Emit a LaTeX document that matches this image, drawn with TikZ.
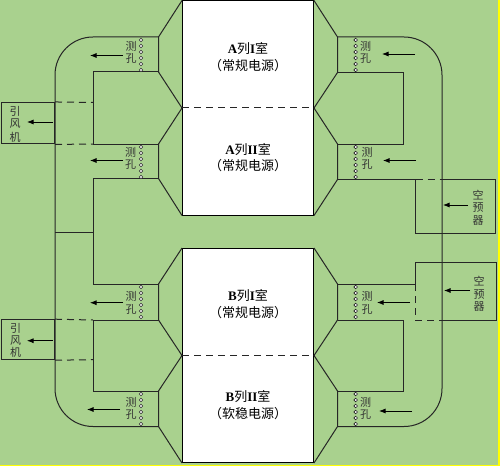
\documentclass[tikz,border=0pt]{standalone}
\usepackage{fontspec}
\setmainfont{Liberation Serif}
\newfontfamily\cjk{Noto Sans CJK SC}
\usetikzlibrary{arrows.meta, positioning, calc}
\definecolor{plantgreen}{HTML}{A9D18E}
\definecolor{edgeyellow}{HTML}{FFFF00}

\begin{document}
\begin{tikzpicture}[
        x=1pt, y=-1pt,
        line/.style={draw=black!85, line width=1pt},
        cut/.style={line, dash pattern=on 7pt off 5pt},
        room/.style={rectangle, draw=black, line width=1pt, fill=white, minimum width=131pt, minimum height=214pt, inner sep=0pt},
        unit/.style={rectangle, line, minimum width=53pt, inner sep=0pt},
        flow/.style={draw=black, line width=0.8pt, -{Latex[length=6.5pt,width=5pt]}},
        hole/.style={circle, draw=black!85, fill=white, line width=0.6pt, minimum size=3.6pt, inner sep=0pt},
        tag/.style={font=\cjk\fontsize{11}{11}\selectfont, text=black!80, inner sep=0pt},
        title/.style={font=\fontsize{13}{13}\selectfont, inner sep=0pt},
    ]

        % background and strip along the lower edge
        \fill[white] (0,0) rectangle (500,468);
        \fill[edgeyellow] (0,0) rectangle (499.5,466);
        \fill[plantgreen] (0,0) rectangle (498.3,465);
        \useasboundingbox (0,0) rectangle (500,468);

        % ----------------------------------------------------
        % ROOMS
        % ----------------------------------------------------
        \node[room] (roomA) at (248,108) {};
        \node[room] (roomB) at (248,355.5) {};
        \draw[cut] (roomA.west) -- (roomA.east);
        \draw[cut] (roomB.west) -- (roomB.east);

        \node[title] (titleA1) at (248,49) {\textbf{A}{\cjk 列}\textbf{I}{\cjk 室}};
        \node[title] (noteA1) at (248,66) {\cjk （常规电源）};
        \node[title] (titleA2) at (248,149.5) {\textbf{A}{\cjk 列}\textbf{II}{\cjk 室}};
        \node[title] (noteA2) at (248,166) {\cjk （常规电源）};
        \node[title] (titleB1) at (248,296) {\textbf{B}{\cjk 列}\textbf{I}{\cjk 室}};
        \node[title] (noteB1) at (248,313) {\cjk （常规电源）};
        \node[title] (titleB2) at (248,396.5) {\textbf{B}{\cjk 列}\textbf{II}{\cjk 室}};
        \node[title] (noteB2) at (248,414) {\cjk （软稳电源）};

        % ----------------------------------------------------
        % DUCT CORNERS
        % ----------------------------------------------------
        % Left side
        \coordinate (la1) at (158.5,37);
        \coordinate (la2) at (158.5,72);
        \coordinate (la3) at (158.5,144);
        \coordinate (la4) at (158.5,178.5);
        \coordinate (lb1) at (158.5,284);
        \coordinate (lb2) at (158.5,320);
        \coordinate (lb3) at (158.5,391);
        \coordinate (lb4) at (158.5,426.5);
        % Right side
        \coordinate (ra1) at (337.5,37);
        \coordinate (ra2) at (337.5,72.5);
        \coordinate (ra3) at (337.5,144);
        \coordinate (ra4) at (337.5,179.5);
        \coordinate (rb1) at (337.5,284);
        \coordinate (rb2) at (337.5,320);
        \coordinate (rb3) at (337.5,391);
        \coordinate (rb4) at (337.5,426.5);

        % Funnels
        \draw[line] (roomA.north west) -- (la1) -- (la2) -- (roomA.west) -- (la3) -- (la4) -- (roomA.south west);
        \draw[line] (roomB.north west) -- (lb1) -- (lb2) -- (roomB.west) -- (lb3) -- (lb4) -- (roomB.south west);
        \draw[line] (roomA.north east) -- (ra1) -- (ra2) -- (roomA.east) -- (ra3) -- (ra4) -- (roomA.south east);
        \draw[line] (roomB.north east) -- (rb1) -- (rb2) -- (roomB.east) -- (rb3) -- (rb4) -- (roomB.south east);

        % ----------------------------------------------------
        % LEFT DUCTS AND FANS
        % ----------------------------------------------------
        \node[unit, minimum height=41.5pt] (fanA) at (28,123.2) {};
        \node[unit, minimum height=40pt] (fanB) at (28,339.7) {};

        \draw[line, rounded corners=38pt] (la1) -- (55,37) -- (55,426.5) -- (lb4);
        \draw[line] (la2) -- (93,72) -- (93,102.5);
        \draw[line] (93,102.5) -- (93,144) -- (la3);
        \draw[line] (la4) -- (93,178.5) -- (93,284) -- (lb1);
        \draw[line] (lb2) -- (93,320) -- (93,359.7);
        \draw[line] (93,359.7) -- (93,391) -- (lb3);
        \draw[line] (55,232.5) -- (93,232.5);

        \draw[cut] (fanA.north east) -- (93,102.5);
        \draw[cut] (fanA.south east) -- (93,144);
        \draw[cut] (fanB.north east) -- (93,320);
        \draw[cut] (fanB.south east) -- (93,359.7);

        \node[tag] (yinA1) at (15,111.5) {引};
        \node[tag] (yinA2) at (15,124) {风};
        \node[tag] (yinA3) at (15,137) {机};
        \node[tag] (yinB1) at (15.5,328.5) {引};
        \node[tag] (yinB2) at (15.5,340.5) {风};
        \node[tag] (yinB3) at (15.5,352.5) {机};

        % ----------------------------------------------------
        % RIGHT DUCTS AND PREHEATERS
        % ----------------------------------------------------
        \draw[line, rounded corners=38pt] (ra1) -- (442,37) -- (442,426.5) -- (rb4);
        \draw[line] (ra2) -- (403.5,72.5) -- (403.5,144) -- (ra3);
        \draw[line] (rb2) -- (403.5,320) -- (403.5,391) -- (rb3);

        % Upper preheater
        \coordinate (heatA) at (415.7,179.5);
        \draw[line] (ra4) -- (heatA) -- (415.7,233.5) -- (495,233.5) -- (495,179.5) -- (442,179.5);
        \draw[cut] (heatA) -- (442,179.5);

        % Lower preheater
        \coordinate (heatB) at (415.7,284);
        \draw[line] (rb1) -- (heatB) -- (415.7,262.3) -- (496,262.3) -- (496,320.7) -- (442,320.7);
        \draw[cut] (heatB) -- (415.7,320.7) -- (442,320.7);

        \node[tag] (kongA1) at (478,195.5) {空};
        \node[tag] (kongA2) at (478,208) {预};
        \node[tag] (kongA3) at (478,220.7) {器};
        \node[tag] (kongB1) at (479,281.5) {空};
        \node[tag] (kongB2) at (479,294.5) {预};
        \node[tag] (kongB3) at (479,307) {器};

        % ----------------------------------------------------
        % MEASURING HOLES
        % ----------------------------------------------------
        \foreach \y in {40,46,...,70} {
            \node[hole] at (141,\y) {};
            \node[hole] at (355.7,\y) {};
        }
        \foreach \y in {147,153,...,177} {
            \node[hole] at (141,\y) {};
            \node[hole] at (355.7,\y) {};
        }
        \foreach \y in {287,293,...,317} {
            \node[hole] at (141,\y) {};
            \node[hole] at (355.7,\y) {};
        }
        \foreach \y in {394,400,...,424} {
            \node[hole] at (141,\y) {};
            \node[hole] at (355.7,\y) {};
        }

        \foreach \x/\ya/\yb in {131/46.5/58.7, 130.7/152.3/164, 131/296/309, 131/402.3/414.7, 365.5/46/58.7, 367/152.3/164, 367/296/309, 365.5/402/414.5} {
            \node[tag] at (\x,\ya) {测};
            \node[tag] at (\x,\yb) {孔};
        }

        % ----------------------------------------------------
        % FLOW ARROWS
        % ----------------------------------------------------
        \coordinate (fa1) at (123,55.5);  \coordinate (ta1) at (90,55.5);
        \coordinate (fa2) at (123,160.5); \coordinate (ta2) at (90,160.5);
        \coordinate (fb1) at (123,302.7); \coordinate (tb1) at (90,302.7);
        \coordinate (fb2) at (120,409.5); \coordinate (tb2) at (87,409.5);
        \coordinate (ga1) at (415,54);    \coordinate (sa1) at (382,54);
        \coordinate (ga2) at (416,160.5); \coordinate (sa2) at (383,160.5);
        \coordinate (gb1) at (410,302.5); \coordinate (sb1) at (377,302.5);
        \coordinate (gb2) at (412,411);   \coordinate (sb2) at (379,411);
        \draw[flow] (fa1) -- (ta1);
        \draw[flow] (fa2) -- (ta2);
        \draw[flow] (fb1) -- (tb1);
        \draw[flow] (fb2) -- (tb2);
        \draw[flow] (ga1) -- (sa1);
        \draw[flow] (ga2) -- (sa2);
        \draw[flow] (gb1) -- (sb1);
        \draw[flow] (gb2) -- (sb2);

        % Fan and preheater arrows
        \draw[flow] (53,122) -- (27,122);
        \draw[flow] (53,340.7) -- (27,340.7);
        \draw[flow] (468,205) -- (443,205);
        \draw[flow] (470,290.5) -- (444,290.5);

    \end{tikzpicture}
\end{document}
